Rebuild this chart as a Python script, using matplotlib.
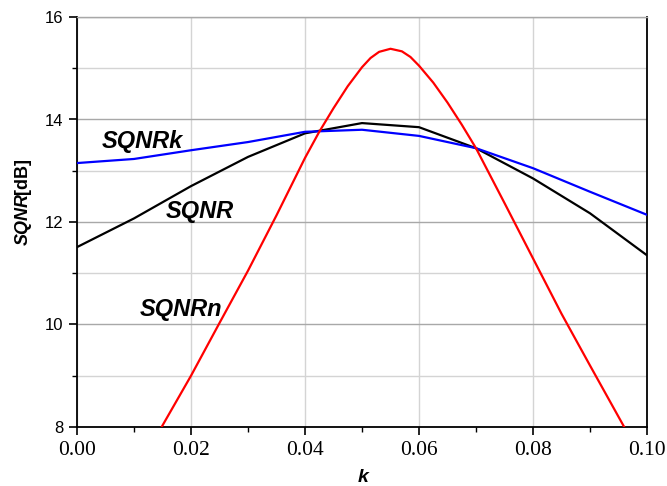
import matplotlib
matplotlib.use("Agg")
import matplotlib.pyplot as plt
from matplotlib.ticker import MultipleLocator, FormatStrFormatter

# ---- data ----
k_grid = [0.00, 0.01, 0.02, 0.03, 0.04, 0.05, 0.06, 0.07, 0.08, 0.09, 0.10]
sqnr = [11.51, 12.07, 12.70, 13.27, 13.73, 13.93, 13.85, 13.44, 12.85, 12.17, 11.35]
sqnrk = [13.15, 13.23, 13.40, 13.56, 13.76, 13.80, 13.68, 13.44, 13.05, 12.59, 12.14]

k_n = [0.0140, 0.0150, 0.0200, 0.0250, 0.0300, 0.0350, 0.0400, 0.0425, 0.0450,
       0.0475, 0.0500, 0.0515, 0.0530, 0.0550, 0.0570, 0.0585, 0.0600, 0.0625,
       0.0650, 0.0675, 0.0700, 0.0750, 0.0800, 0.0850, 0.0900, 0.0950, 0.0975]
sqnrn = [7.82, 8.03, 9.00, 10.03, 11.05, 12.13, 13.25, 13.76, 14.22,
         14.65, 15.02, 15.20, 15.32, 15.38, 15.33, 15.22, 15.05, 14.72,
         14.33, 13.90, 13.44, 12.37, 11.29, 10.21, 9.20, 8.20, 7.70]

series_labels = ["SQNR", "SQNRk", "SQNRn"]
label_pos = {"SQNRk": (0.0044, 13.58), "SQNR": (0.0156, 12.21), "SQNRn": (0.0110, 10.30)}

xticks = [0.00, 0.02, 0.04, 0.06, 0.08, 0.10]
yticks = [8, 10, 12, 14, 16]

# ---- figure ----
fig = plt.figure(figsize=(6.67, 4.86), dpi=100)
ax = fig.add_axes([77/667, 1-427/486, 570/667, 410/486])

ax.plot(k_grid, sqnr, color="black", lw=1.6, zorder=3)
ax.plot(k_grid, sqnrk, color="#0000ff", lw=1.6, zorder=3)
ax.plot(k_n, sqnrn, color="#ff0000", lw=1.6, zorder=4, solid_joinstyle="round")

ax.set_xlim(0, 0.10)
ax.set_ylim(8, 16)
ax.set_xticks(xticks)
ax.set_yticks(yticks)
ax.xaxis.set_minor_locator(MultipleLocator(0.01))
ax.yaxis.set_minor_locator(MultipleLocator(1))
ax.xaxis.set_major_formatter(FormatStrFormatter("%.2f"))

# grid
ax.grid(True, which="major", axis="y", color="#a8a8a8", lw=1.0, zorder=0)
ax.grid(True, which="minor", axis="y", color="#d4d4d4", lw=1.0, zorder=0)
ax.grid(True, which="major", axis="x", color="#d4d4d4", lw=1.0, zorder=0)
ax.set_axisbelow(True)

for s in ["left", "bottom", "right"]:
    ax.spines[s].set_color("black")
    ax.spines[s].set_linewidth(1.3)
ax.spines["top"].set_color("#a8a8a8")
ax.spines["top"].set_linewidth(1.0)

ax.tick_params(which="major", direction="out", length=6, width=1.2, top=False, right=False)
ax.tick_params(which="minor", direction="out", length=3.5, width=1.0, top=False, right=False)
ax.tick_params(axis="x", which="major", pad=4)
ax.tick_params(axis="y", which="major", pad=4)

for lab in ax.get_xticklabels():
    lab.set_fontfamily("Liberation Serif")
    lab.set_fontsize(15.5)
for lab in ax.get_yticklabels():
    lab.set_fontfamily("Liberation Sans")
    lab.set_fontsize(12)

# series labels
for name in series_labels:
    x, y = label_pos[name]
    ax.text(x, y, name, ha="left", va="center", fontsize=17,
            fontfamily="Liberation Sans", fontweight="bold", fontstyle="italic", zorder=5)

# axis labels
fig.text(363/667, 1-477/486, "k", ha="center", va="center", fontsize=14,
         fontfamily="Liberation Sans", fontweight="bold", fontstyle="italic")
fig.text(23/667, 1-219/486, "SQNR", ha="center", va="center", rotation=90, fontsize=13,
         fontfamily="Liberation Sans", fontweight="bold", fontstyle="italic")
fig.text(23/667, 1-176/486, "[dB]", ha="center", va="center", rotation=90, fontsize=13,
         fontfamily="Liberation Sans", fontweight="bold")

fig.savefig("out.png", dpi=100)
